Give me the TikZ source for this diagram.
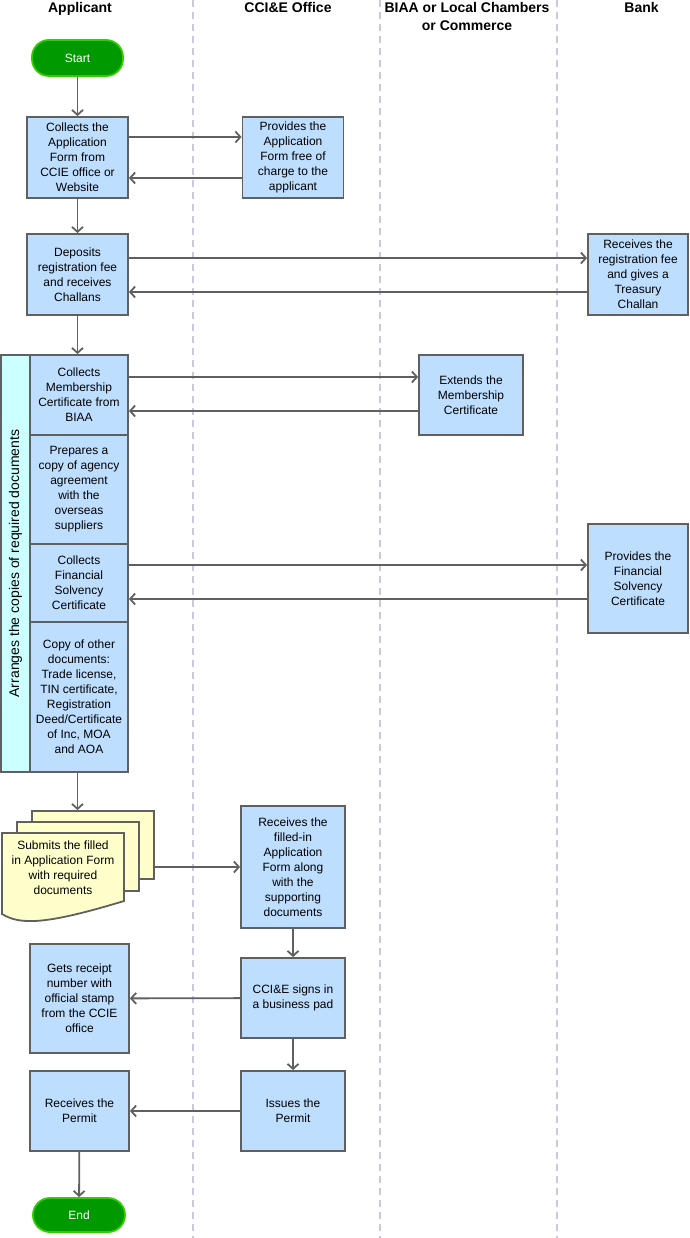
\documentclass[tikz,border=0pt]{standalone}
\usepackage{fontspec}
\setmainfont{Liberation Sans}
\usetikzlibrary{positioning, arrows.meta}

\begin{document}
\begin{tikzpicture}[x=1pt, y=-1pt,
  head/.style={anchor=north, inner sep=0pt, align=center, font=\fontsize{14}{18}\selectfont\bfseries},
  proc/.style={draw=linegray, fill=boxblue, line width=1.8pt, align=center, inner sep=0pt, font=\fontsize{12}{15}\selectfont},
  term/.style={draw=termedge, fill=termgreen, line width=1.8pt, rounded corners=17pt, text=white, inner sep=0pt, font=\fontsize{12}{15}\selectfont},
  page/.style={draw=linegray, fill=docyellow, line width=1.8pt, inner sep=0pt},
  flow/.style={draw=linegray, line width=1.8pt, -{Straight Barb[length=5pt, width=11pt]}},
  lane/.style={draw=lanegray, line width=1.5pt, dash pattern=on 7pt off 5pt}]

% Define colors
\definecolor{boxblue}{RGB}{190,222,255}
\definecolor{linegray}{RGB}{96,96,96}
\definecolor{lanegray}{RGB}{200,200,222}
\definecolor{termgreen}{RGB}{0,153,0}
\definecolor{termedge}{RGB}{51,204,0}
\definecolor{docyellow}{RGB}{255,255,204}
\definecolor{stripcyan}{RGB}{204,255,255}

\useasboundingbox (0,0) rectangle (689,1238);

% Draw lane dividers
\foreach \x in {193,380,557}
  \draw[lane] (\x,0) -- (\x,1238);

% Add lane headers
\node[head] (hApplicant) at (80,2) {Applicant};
\node[head] (hOffice) at (288,2) {CCI\&E Office};
\node[head] (hChamber) at (467,2) {BIAA or Local Chambers\\or Commerce};
\node[head] (hBank) at (641.5,2) {Bank};

% Applicant lane
\node[term, minimum width=91pt, minimum height=36pt] (start) at (77.5,58) {Start};
\node[proc, minimum width=101pt, minimum height=81pt] (collect) at (77.5,157.5) {Collects the\\Application\\Form from\\CCIE office or\\Website};
\node[proc, minimum width=101pt, minimum height=81pt] (deposit) at (77.5,274.5) {Deposits\\registration fee\\and receives\\Challans};

% Group of required documents
\fill[stripcyan] (1,355) rectangle (30,772);
\draw[draw=linegray, line width=1.8pt] (1,355) rectangle (128,772);
\node[rotate=90, inner sep=0pt, font=\fontsize{14}{16}\selectfont] (arrange) at (15.5,563.5) {Arranges the copies of required documents};
\node[proc, minimum width=98pt, minimum height=80pt] (member) at (79,395) {Collects\\Membership\\Certificate from\\BIAA};
\node[proc, minimum width=98pt, minimum height=109pt] (agency) at (79,489.5) {Prepares a\\copy of agency\\agreement\\with the\\overseas\\suppliers};
\node[proc, minimum width=98pt, minimum height=78pt] (solvency) at (79,583) {Collects\\Financial\\Solvency\\Certificate};
\node[proc, minimum width=98pt, minimum height=150pt] (other) at (79,697) {Copy of other\\documents:\\Trade license,\\TIN certificate,\\Registration\\Deed/Certificate\\of Inc, MOA\\and AOA};

% Document stack
\node[page, minimum width=122pt, minimum height=68pt] (back) at (93,845) {};
\node[page, minimum width=122pt, minimum height=69pt] (middle) at (78,856.5) {};
\draw[page] (2,833) -- (124,833) -- (124,901) .. controls (45,925) and (20,925) .. (2,914) -- cycle;
\node[align=center, inner sep=0pt, font=\fontsize{12}{15}\selectfont] (submit) at (63,868) {Submits the filled\\in Application Form\\with required\\documents};

\node[proc, minimum width=99pt, minimum height=109pt] (receipt) at (79.5,998.5) {Gets receipt\\number with\\official stamp\\from the CCIE\\office};
\node[proc, minimum width=99pt, minimum height=80pt] (permit) at (79.5,1111) {Receives the\\Permit};
\node[term, minimum width=92pt, minimum height=34pt] (end) at (79,1215) {End};

% CCI&E Office lane
\node[proc, minimum width=101pt, minimum height=81pt] (provide) at (293,157.5) {Provides the\\Application\\Form free of\\charge to the\\applicant};
\node[proc, minimum width=104pt, minimum height=122pt] (receive) at (293,867) {Receives the\\filled-in\\Application\\Form along\\with the\\supporting\\documents};
\node[proc, minimum width=104pt, minimum height=80pt] (signs) at (293,998) {CCI\&E signs in\\a business pad};
\node[proc, minimum width=104pt, minimum height=80pt] (issue) at (293,1111) {Issues the\\Permit};

% BIAA lane
\node[proc, minimum width=104pt, minimum height=80pt] (extend) at (471,395) {Extends the\\Membership\\Certificate};

% Bank lane
\node[proc, minimum width=100pt, minimum height=81pt] (treasury) at (638,274.5) {Receives the\\registration fee\\and gives a\\Treasury\\Challan};
\node[proc, minimum width=100pt, minimum height=109pt] (financial) at (638,578.5) {Provides the\\Financial\\Solvency\\Certificate};

% Connectors
\draw[flow] (start) -- (collect);
\draw[flow] ([yshift=20.5pt]collect.east) -- ([yshift=20.5pt]collect.east -| provide.west);
\draw[flow] ([yshift=-20.5pt]provide.west) -- ([yshift=-20.5pt]provide.west -| collect.east);
\draw[flow] (collect) -- (deposit);
\draw[flow] ([yshift=16.5pt]deposit.east) -- ([yshift=16.5pt]deposit.east -| treasury.west);
\draw[flow] ([yshift=-17.5pt]treasury.west) -- ([yshift=-17.5pt]treasury.west -| deposit.east);
\draw[flow] (deposit.south) -- (deposit.south |- member.north);
\draw[flow] ([yshift=18pt]member.east) -- ([yshift=18pt]member.east -| extend.west);
\draw[flow] ([yshift=-16pt]extend.west) -- ([yshift=-16pt]extend.west -| member.east);
\draw[flow] ([yshift=18pt]solvency.east) -- ([yshift=18pt]solvency.east -| financial.west);
\draw[flow] ([yshift=-16pt]solvency.east -| financial.west) -- ([yshift=-16pt]solvency.east);
\draw[flow] (other.south -| deposit) -- (back.north -| deposit);
\draw[flow] (back.east |- receive) -- (receive);
\draw[flow] (receive) -- (signs);
\draw[flow] (signs) -- (receipt);
\draw[flow] (signs) -- (issue);
\draw[flow] (issue) -- (permit);
\draw[flow] (permit) -- (end);

\end{tikzpicture}
\end{document}
